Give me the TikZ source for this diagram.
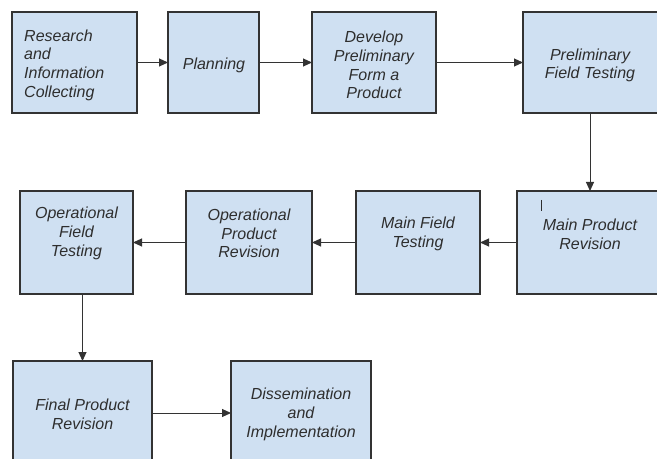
\documentclass[tikz,border=0pt]{standalone}
\usepackage{fontspec}
\setmainfont{Liberation Sans}
\usetikzlibrary{arrows.meta}
\definecolor{boxfill}{HTML}{CFE0F2}
\definecolor{boxline}{HTML}{333333}
\definecolor{txtcol}{HTML}{2E2E2E}
\tikzset{
  box/.style={draw=boxline, line width=1.2bp, fill=boxfill, rectangle, inner sep=0pt, outer sep=0pt},
  txt/.style={text=txtcol, inner sep=0pt, align=center, font=\fontsize{16bp}{18.7bp}\selectfont\itshape},
  arr/.style={draw=boxline, line width=1bp, -{Triangle[length=9bp,width=8bp]}},
}
\begin{document}
\begin{tikzpicture}[x=1bp,y=-1bp]
\useasboundingbox (0,0) rectangle (657,459);
\clip (0,0) rectangle (657,459);
% row 1
\node[box, minimum width=125bp, minimum height=101bp] (R) at (74.5,62.5) {};
\node[box, minimum width=91bp, minimum height=101bp] (P) at (213.5,62.5) {};
\node[box, minimum width=124bp, minimum height=101bp] (D) at (374,62.5) {};
\node[box, minimum width=140bp, minimum height=101bp] (PF) at (593,62.5) {};
% row 2
\node[box, minimum width=113bp, minimum height=103bp] (OF) at (76.5,242.5) {};
\node[box, minimum width=126bp, minimum height=103bp] (OP) at (249,242.5) {};
\node[box, minimum width=124bp, minimum height=103bp] (MF) at (418,242.5) {};
\node[box, minimum width=146bp, minimum height=103bp] (MP) at (590,242.5) {};
% row 3
\node[box, minimum width=139bp, minimum height=104bp] (FP) at (82.5,413) {};
\node[box, minimum width=140bp, minimum height=104bp] (DI) at (301,413) {};
% texts
\node[txt, align=left, anchor=west] (tR) at (24,65) {Research\\and\\Information\\Collecting};
\node[txt] (tP) at (214,65) {Planning};
\node[txt] (tD) at (374,65) {Develop\\Preliminary\\Form a\\Product};
\node[txt] (tPF) at (590,65.5) {Preliminary\\Field Testing};
\node[txt] (tOF) at (76.5,233.5) {Operational\\Field\\Testing};
\node[txt] (tOP) at (249,233.5) {Operational\\Product\\Revision};
\node[txt] (tMF) at (418,234) {Main Field\\Testing};
\node[txt] (tMP) at (590,234) {Main Product\\Revision};
\node[txt] (tFP) at (82.5,414.5) {Final Product\\Revision};
\node[txt] (tDI) at (301,414.5) {Dissemination\\and\\Implementation};
% cursor mark
\coordinate (c1) at (541,200);
\coordinate (c2) at (541,211);
\draw[draw=txtcol, line width=0.9bp] (c1) -- (c2);
% connectors
\draw[arr] (R) -- (P);
\draw[arr] (P) -- (D);
\draw[arr] (D) -- (PF);
\draw[arr] (PF.south -| MP.north) -- (MP.north);
\draw[arr] (MP) -- (MF);
\draw[arr] (MF) -- (OP);
\draw[arr] (OP) -- (OF);
\draw[arr] (OF.south -| FP.north) -- (FP.north);
\draw[arr] (FP) -- (DI);
\end{tikzpicture}
\end{document}
